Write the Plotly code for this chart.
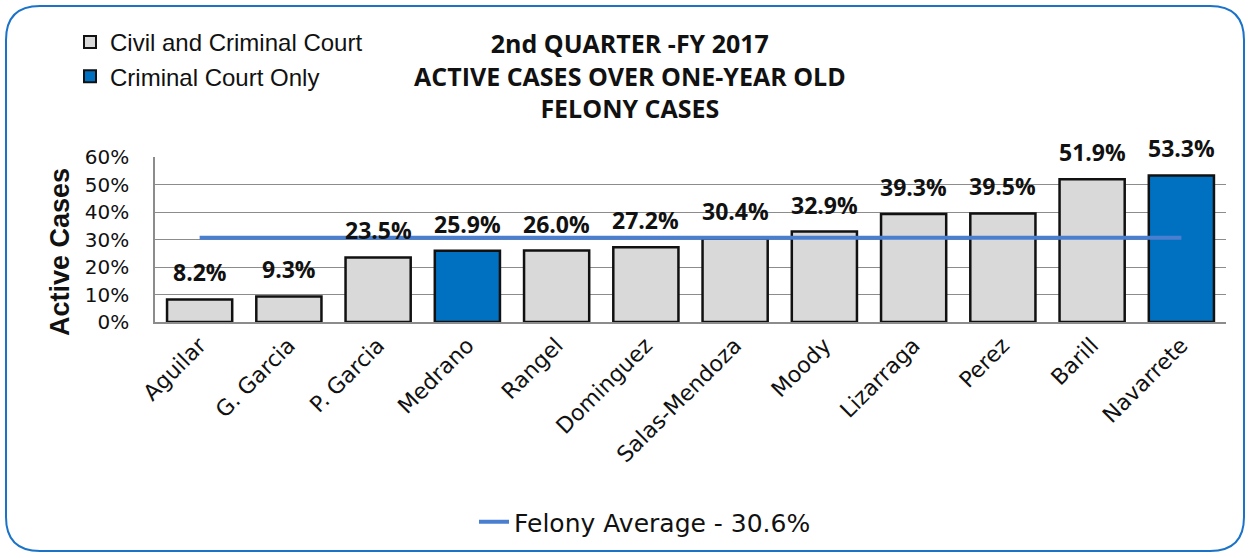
import plotly.graph_objects as go

judges = ["Aguilar", "G. Garcia", "P. Garcia", "Medrano", "Rangel", "Dominguez",
          "Salas-Mendoza", "Moody", "Lizarraga", "Perez", "Barill", "Navarrete"]
active_pct = [8.2, 9.3, 23.5, 25.9, 26.0, 27.2, 30.4, 32.9, 39.3, 39.5, 51.9, 53.3]
court_type = ["civil", "civil", "civil", "criminal", "civil", "civil",
              "civil", "civil", "civil", "civil", "civil", "criminal"]
felony_avg = 30.6
title_lines = ["2nd QUARTER -FY 2017", "ACTIVE CASES OVER ONE-YEAR OLD", "FELONY CASES"]
y_ticks = [0, 10, 20, 30, 40, 50, 60]
y_tick_labels = ["0%", "10%", "20%", "30%", "40%", "50%", "60%"]

W, H = 1251, 558
L, R, T, B = 155, 1226, 157, 322

GRAY = "#d9d9d9"
BLUE = "#0070c0"
LINE_BLUE = "#4a7fd0"
LABEL_FONT = "Open Sans, Arial, sans-serif"
TICK_FONT = "DejaVu Sans, Verdana, sans-serif"
ARIAL = "Liberation Sans, Arial, sans-serif"

fig = go.Figure()

civ_x = [j for j, c in zip(judges, court_type) if c == "civil"]
civ_y = [v for v, c in zip(active_pct, court_type) if c == "civil"]
crim_x = [j for j, c in zip(judges, court_type) if c == "criminal"]
crim_y = [v for v, c in zip(active_pct, court_type) if c == "criminal"]

fig.add_trace(go.Bar(x=civ_x, y=civ_y, name="Civil and Criminal Court",
                     marker=dict(color=GRAY, line=dict(color="#111111", width=2.5)),
                     width=0.73, legend="legend"))
fig.add_trace(go.Bar(x=crim_x, y=crim_y, name="Criminal Court Only",
                     marker=dict(color=BLUE, line=dict(color="#111111", width=2.5)),
                     width=0.73, legend="legend"))
fig.add_trace(go.Scatter(x=judges, y=[felony_avg] * len(judges), mode="lines",
                         name="Felony Average - 30.6%",
                         line=dict(color=LINE_BLUE, width=4), legend="legend2"))

for j, v in zip(judges, active_pct):
    fig.add_annotation(x=j, y=v, text=f"<b>{v:.1f}%</b>", showarrow=False,
                       yanchor="bottom", yshift=9,
                       font=dict(family=LABEL_FONT, size=23, color="#111111"))


def px_x(px):
    return (px - L) / (R - L)


def px_y(py):
    return (B - py) / (B - T)


fig.add_annotation(xref="paper", yref="paper", x=px_x(630), y=px_y(76),
                   text="<br>".join(f"<b>{t}</b>" for t in title_lines),
                   showarrow=False, xanchor="center", yanchor="middle", align="center",
                   font=dict(family=LABEL_FONT, size=25, color="#111111"))

# y-axis title
fig.add_annotation(xref="paper", yref="paper", x=px_x(60), y=px_y(252),
                   text="<b>Active Cases</b>", showarrow=False, textangle=-90,
                   xanchor="center", yanchor="middle",
                   font=dict(family=ARIAL, size=27, color="#111111"))

# Rounded border
x0, x1, y0, y1, r = 6, 1244, 6, 551, 34


def P(px, py):
    return f"{px_x(px):.5f},{px_y(py):.5f}"


path = (f"M {P(x0 + r, y0)} L {P(x1 - r, y0)} Q {P(x1, y0)} {P(x1, y0 + r)} "
        f"L {P(x1, y1 - r)} Q {P(x1, y1)} {P(x1 - r, y1)} "
        f"L {P(x0 + r, y1)} Q {P(x0, y1)} {P(x0, y1 - r)} "
        f"L {P(x0, y0 + r)} Q {P(x0, y0)} {P(x0 + r, y0)} Z")
fig.add_shape(type="path", xref="paper", yref="paper", path=path,
              line=dict(color="#1a73c8", width=2), layer="below")

fig.update_layout(
    width=W, height=H,
    margin=dict(l=L, r=W - R, t=T, b=H - B),
    paper_bgcolor="white", plot_bgcolor="white",
    barmode="overlay",
    font=dict(family=LABEL_FONT, color="#111111"),
    showlegend=True,
    legend=dict(x=px_x(70), y=px_y(20), xanchor="left", yanchor="top",
                font=dict(family=ARIAL, size=24, color="#111111"),
                bgcolor="rgba(0,0,0,0)", tracegroupgap=0, itemsizing="constant",
                traceorder="normal"),
    legend2=dict(x=px_x(645), y=px_y(522), xanchor="center", yanchor="middle",
                 orientation="h",
                 font=dict(family=TICK_FONT, size=25, color="#111111"),
                 bgcolor="rgba(0,0,0,0)"),
    xaxis=dict(type="category", categoryorder="array", categoryarray=judges,
               tickangle=-45, tickfont=dict(family=TICK_FONT, size=22, color="#111111"),
               showline=True, linecolor="#8c8c8c", linewidth=1.5, ticks="",
               range=[-0.5, len(judges) - 0.5]),
    yaxis=dict(range=[0, 60], tickvals=y_ticks, ticktext=y_tick_labels,
               tickfont=dict(family=TICK_FONT, size=20, color="#111111"),
               ticklabelstandoff=20,
               showgrid=True, gridcolor="#8c8c8c", gridwidth=1,
               showline=True, linecolor="#8c8c8c", linewidth=1.5,
               zeroline=False, ticks=""),
)

fig.write_html("out.html", config={"displayModeBar": False},
               post_script="document.body.style.margin='0';document.body.style.overflow='hidden';")
